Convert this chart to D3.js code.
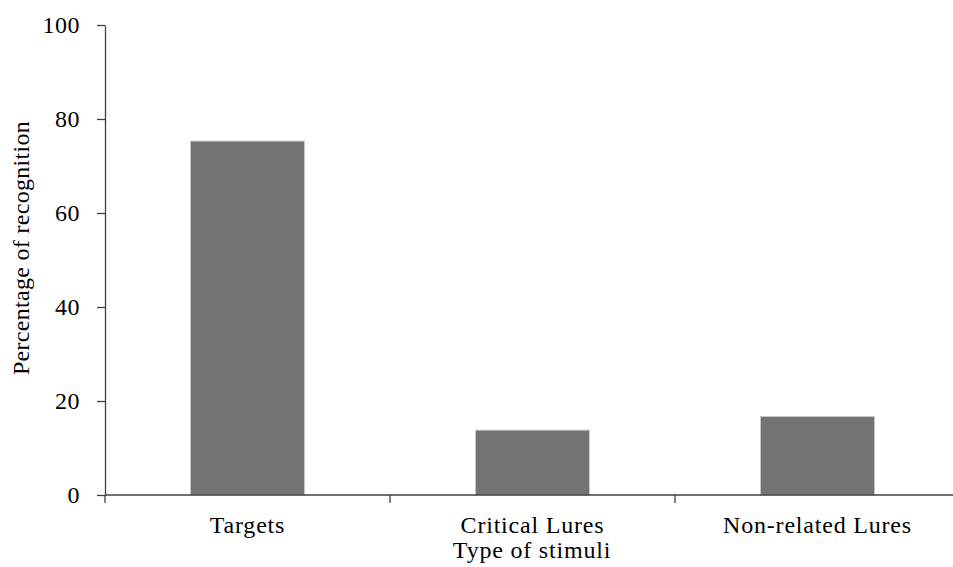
<!DOCTYPE html>
<html><head><meta charset="utf-8">
<script src="https://cdn.jsdelivr.net/npm/d3@7"></script>
<style>body{margin:0;background:#fff}</style>
</head><body>
<svg id="c" width="953" height="567"></svg>
<script>
const categories = ["Targets", "Critical Lures", "Non-related Lures"];
const values = [75.3, 13.8, 16.7];
const yTicks = [0, 20, 40, 60, 80, 100];

const svg = d3.select("#c");
const font = "'Liberation Serif', 'Times New Roman', serif";
const fs = 24;
const x = d3.scaleBand().domain(categories).range([105, 960]).paddingInner(0.6).paddingOuter(0.3);
const y = d3.scaleLinear().domain([0, 100]).range([495, 25]);

svg.selectAll("rect.bar").data(values).join("rect")
  .attr("class", "bar")
  .attr("x", (d, i) => x(categories[i]))
  .attr("width", x.bandwidth())
  .attr("y", d => y(d))
  .attr("height", d => y(0) - y(d))
  .attr("fill", "#737373")
  .attr("stroke", "#c8c8c8")
  .attr("stroke-width", 1);

// Y axis
const ya = svg.append("g").attr("transform", "translate(105,0)")
  .call(d3.axisLeft(y).tickValues(yTicks).tickSize(8).tickPadding(17).tickSizeOuter(0));
ya.select(".domain").attr("stroke", "#404040").attr("stroke-width", 1.3);
ya.selectAll(".tick line").attr("stroke", "#404040").attr("stroke-width", 1.3);
ya.selectAll("text").attr("font-family", font).attr("font-size", fs).attr("fill", "#000")
  .attr("letter-spacing", 0.5);

// X axis
const step = x.step();
const bounds = [105, 105 + step, 105 + 2 * step, 105 + 3 * step];
svg.append("line").attr("x1", 105).attr("x2", 960).attr("y1", 495).attr("y2", 495)
  .attr("stroke", "#404040").attr("stroke-width", 1.3);
svg.selectAll("line.xt").data(bounds).join("line").attr("class", "xt")
  .attr("x1", d => d).attr("x2", d => d).attr("y1", 495).attr("y2", 503)
  .attr("stroke", "#404040").attr("stroke-width", 1.3);
svg.selectAll("text.xl").data(categories).join("text").attr("class", "xl")
  .attr("x", d => x(d) + x.bandwidth() / 2).attr("y", 533)
  .attr("text-anchor", "middle").attr("font-family", font).attr("font-size", fs)
  .attr("letter-spacing", 0.8)
  .text(d => d);

svg.append("text").attr("x", 532).attr("y", 558).attr("text-anchor", "middle")
  .attr("font-family", font).attr("font-size", fs).attr("letter-spacing", 0.8).text("Type of stimuli");
svg.append("text").attr("transform", "translate(29,248) rotate(-90)").attr("text-anchor", "middle")
  .attr("font-family", font).attr("font-size", fs).attr("letter-spacing", 0.3).text("Percentage of recognition");
</script>
</body></html>
